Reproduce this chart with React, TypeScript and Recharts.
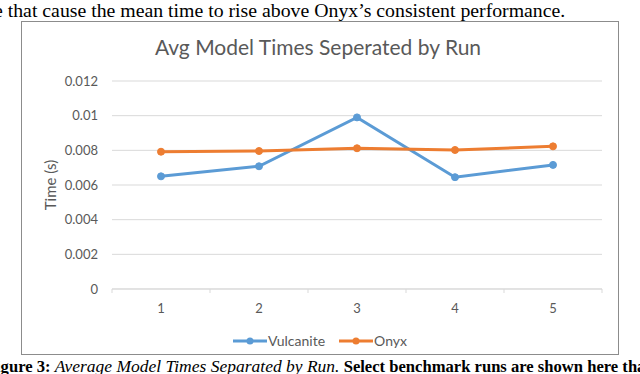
import React from 'react';
import { LineChart, Line, XAxis, YAxis, CartesianGrid } from 'recharts';

const runs = ['1', '2', '3', '4', '5'];
const vulcanite = [0.0065, 0.00708, 0.0099, 0.00645, 0.00716];
const onyx = [0.00792, 0.00796, 0.00812, 0.00802, 0.00823];
const yTicks = [0, 0.002, 0.004, 0.006, 0.008, 0.01, 0.012];

const data = runs.map((run, i) => ({ run, Vulcanite: vulcanite[i], Onyx: onyx[i] }));

const BLUE = '#5B9BD5';
const ORANGE = '#ED7D31';
const GREY_TEXT = '#595959';
const GRID = '#D9D9D9';
const FONT = 'Lato, "Open Sans", sans-serif';
const SERIF = '"Liberation Serif", "Times New Roman", serif';

// plot area in page pixels
const PLOT_LEFT = 112;
const PLOT_RIGHT = 602;
const PLOT_TOP = 81;
const PLOT_BOTTOM = 289;
const BAND = (PLOT_RIGHT - PLOT_LEFT) / runs.length;

// category labels with Excel-style tick marks between the categories
const RunTick = (props: any) => {
  const { x, payload, index } = props;
  const half = BAND / 2;
  return (
    <g>
      <line x1={x - half} x2={x - half} y1={PLOT_BOTTOM} y2={PLOT_BOTTOM + 4} stroke={GRID} />
      {index === runs.length - 1 && (
        <line x1={x + half} x2={x + half} y1={PLOT_BOTTOM} y2={PLOT_BOTTOM + 4} stroke={GRID} />
      )}
      <text x={x} y={PLOT_BOTTOM + 24} textAnchor="middle" fill={GREY_TEXT} fontSize={13} fontFamily={FONT}>
        {payload.value}
      </text>
    </g>
  );
};

const legendItems = [
  { name: 'Vulcanite', color: BLUE },
  { name: 'Onyx', color: ORANGE },
];

export default function App() {
  return (
    <div style={{ position: 'absolute', left: 0, top: 0, width: 640, height: 374, overflow: 'hidden', background: '#fff' }}>
      {/* surrounding paper text */}
      <div style={{ position: 'absolute', left: -6, top: -1, whiteSpace: 'nowrap', fontFamily: SERIF, fontSize: 19.8, color: '#000' }}>
        e that cause the mean time to rise above Onyx’s consistent performance.
      </div>
      <div style={{ position: 'absolute', left: -4, top: 356, whiteSpace: 'nowrap', fontFamily: SERIF, fontSize: 16.6, color: '#000', fontWeight: 'bold' }}>
        igure 3: <i style={{ fontWeight: 'normal', fontSize: 17.5 }}>Average Model Times Separated by Run.</i> Select benchmark runs are shown here tha
      </div>

      {/* chart frame */}
      <div style={{ position: 'absolute', left: 21, top: 21, width: 596, height: 332, border: '1px solid #8C8C8C', background: '#fff' }} />
      <div style={{ position: 'absolute', left: 0, top: 34, width: 636, textAlign: 'center', fontFamily: FONT, fontSize: 21, color: GREY_TEXT }}>
        Avg Model Times Seperated by Run
      </div>

      <div style={{ position: 'absolute', left: 0, top: 0 }}>
        <LineChart
          width={640}
          height={374}
          data={data}
          margin={{ top: PLOT_TOP, right: 640 - PLOT_RIGHT, bottom: 374 - PLOT_BOTTOM - 30, left: 0 }}
        >
          <CartesianGrid vertical={false} stroke={GRID} strokeWidth={1} />
          <XAxis
            dataKey="run"
            axisLine={{ stroke: GRID }}
            tickLine={false}
            tick={<RunTick />}
            height={30}
            interval={0}
            padding={{ left: BAND / 2, right: BAND / 2 }}
          />
          <YAxis
            width={PLOT_LEFT}
            domain={[0, 0.012]}
            ticks={yTicks}
            axisLine={false}
            tickLine={false}
            tickMargin={8}
            tick={{ fill: GREY_TEXT, fontSize: 13, fontFamily: FONT }}
            label={{
              value: 'Time (s)',
              angle: -90,
              position: 'insideLeft',
              offset: 51,
              style: { fill: GREY_TEXT, fontSize: 15, fontFamily: FONT, textAnchor: 'middle' },
            }}
          />
          <Line
            type="linear"
            dataKey="Vulcanite"
            stroke={BLUE}
            strokeWidth={3}
            dot={{ r: 3.5, fill: BLUE, stroke: BLUE, strokeWidth: 1 }}
            isAnimationActive={false}
          />
          <Line
            type="linear"
            dataKey="Onyx"
            stroke={ORANGE}
            strokeWidth={3}
            dot={{ r: 3.5, fill: ORANGE, stroke: ORANGE, strokeWidth: 1 }}
            isAnimationActive={false}
          />
        </LineChart>
      </div>

      {/* legend */}
      <div style={{ position: 'absolute', left: 0, top: 332, width: 640, display: 'flex', justifyContent: 'center', gap: 14, fontFamily: FONT, fontSize: 14, color: GREY_TEXT }}>
        {legendItems.map((it) => (
          <div key={it.name} style={{ display: 'flex', alignItems: 'center' }}>
            <svg width={34} height={10} style={{ marginRight: 1 }}>
              <line x1={0} x2={34} y1={5} y2={5} stroke={it.color} strokeWidth={3} />
              <circle cx={17} cy={5} r={3.5} fill={it.color} />
            </svg>
            <span>{it.name}</span>
          </div>
        ))}
      </div>
    </div>
  );
}
